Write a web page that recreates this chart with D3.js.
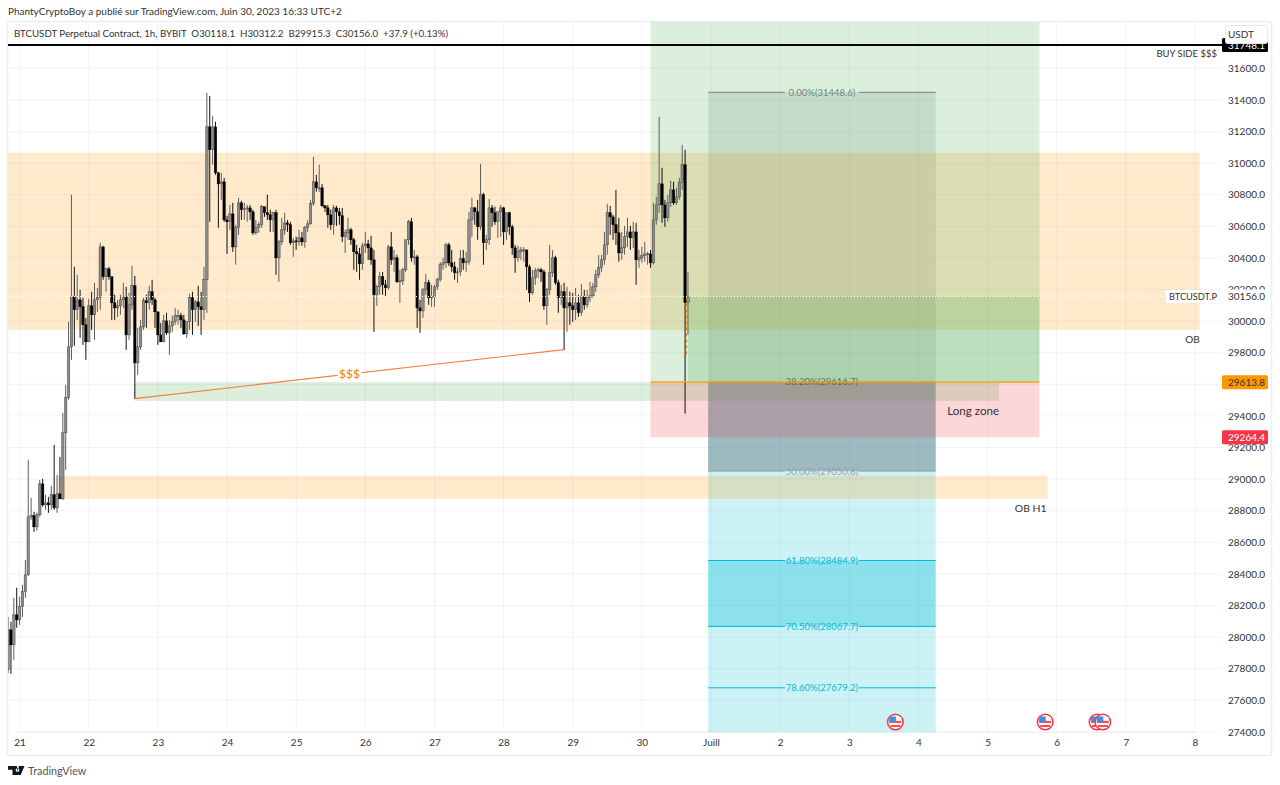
<!DOCTYPE html>
<html>
<head>
<meta charset="utf-8">
<script src="https://cdn.jsdelivr.net/npm/d3@7"></script>
<style>
  html, body { margin: 0; background: #fff; }
  svg { display: block; }
  text { font-family: Lato, "Open Sans", sans-serif; }
</style>
</head>
<body>
<svg id="chart" width="1280" height="785"></svg>
<script>
// hourly candles, hour 0 = 21 June 00:00, one row per day
const firstHour = -4
const firstOpen = 27793

const highs = [
  28128, 28097, 28249, 28312,
  28255, 28331, 28489, 29122, 28882, 28793, 28787, 28996, 29002, 28901, 28888, 28958, 29217, 29027, 29141, 29420, 29597, 29996, 30800, 30344, 30293, 30198, 30148, 30021,
  30141, 30186, 30243, 30211, 30496, 30477, 30338, 30344, 30281, 30167, 30135, 30167, 30243, 30217, 30179, 30350, 30287, 29958, 30008, 30148, 30167, 30224, 30262, 30148,
  30059, 29989, 30040, 30053, 30008, 30034, 30084, 30072, 30053, 30040, 29996, 30173, 30186, 30135, 30224, 30186, 30344, 31445, 31426, 31300, 31262, 30945, 30939, 30907,
  30667, 30736, 30749, 30610, 30781, 30762, 30749, 30736, 30736, 30705, 30641, 30629, 30736, 30724, 30800, 30705, 30692, 30705, 30515, 30654, 30686, 30641, 30629, 30527,
  30534, 30578, 30565, 30603, 30641, 30768, 31040, 30926, 30990, 30869, 30736, 30736, 30705, 30736, 30730, 30717, 30717, 30578, 30654, 30591, 30527, 30483, 30464, 30496,
  30565, 30515, 30540, 30451, 30230, 30312, 30312, 30262, 30483, 30565, 30451, 30420, 30325, 30338, 30496, 30641, 30654, 30451, 30420, 30135, 30211, 30300, 30262, 30230,
  30230, 30274, 30376, 30401, 30496, 30496, 30451, 30376, 30338, 30451, 30451, 30439, 30692, 30781, 30724, 30768, 30996, 30812, 30546, 30774, 30736, 30724, 30692, 30736,
  30724, 30686, 30692, 30610, 30483, 30477, 30470, 30470, 30451, 30357, 30325, 30338, 30338, 30338, 30325, 30211, 30483, 30451, 30414, 30262, 30230, 30243, 30217, 30186,
  30179, 30211, 30167, 30236, 30198, 30198, 30249, 30243, 30325, 30420, 30420, 30565, 30743, 30730, 30673, 30831, 30654, 30565, 30603, 30654, 30603, 30629, 30622, 30451,
  30470, 30502, 30439, 30451, 30749, 30787, 31293, 30971, 30768, 30800, 30888, 30882, 30844, 30907, 31116, 31085, 30312
]
const lows = [
  27774, 27768, 27856, 28059,
  28078, 28128, 28249, 28388, 28742, 28666, 28673, 28761, 28825, 28806, 28787, 28806, 28806, 28787, 28875, 28869, 29059, 29502, 29755, 29844, 30008, 29894, 29850, 29755,
  29869, 29945, 29882, 30059, 30072, 30262, 30186, 30262, 30008, 30008, 30027, 30040, 30084, 29818, 29882, 30072, 29508, 29660, 29818, 29945, 29958, 30072, 30103, 29958,
  29850, 29869, 29869, 29913, 29787, 29932, 29977, 29977, 29958, 29913, 29894, 29945, 29913, 29996, 29970, 29913, 30008, 30053, 30629, 30990, 30926, 30591, 30768, 30629,
  30426, 30578, 30439, 30357, 30546, 30641, 30641, 30629, 30641, 30546, 30546, 30559, 30591, 30660, 30641, 30565, 30565, 30293, 30249, 30483, 30546, 30565, 30483, 30407,
  30451, 30477, 30477, 30464, 30565, 30610, 30730, 30819, 30819, 30724, 30692, 30591, 30578, 30546, 30603, 30610, 30502, 30432, 30515, 30483, 30325, 30312, 30262, 30325,
  30432, 30388, 30357, 29932, 30097, 30167, 30167, 30160, 30198, 30357, 30312, 30243, 30116, 30230, 30312, 30483, 30376, 30357, 29958, 29926, 30021, 30167, 30103, 30091,
  30091, 30198, 30249, 30325, 30338, 30350, 30312, 30262, 30243, 30287, 30325, 30312, 30357, 30534, 30610, 30515, 30578, 30357, 30451, 30483, 30597, 30610, 30527, 30534,
  30483, 30515, 30546, 30420, 30306, 30376, 30388, 30376, 30198, 30122, 30167, 30230, 30274, 30249, 30072, 29977, 30167, 30281, 30230, 30053, 30103, 29818, 29932, 29977,
  29996, 30008, 30027, 30034, 30072, 30084, 30122, 30148, 30186, 30274, 30312, 30357, 30420, 30546, 30515, 30483, 30376, 30388, 30420, 30470, 30451, 30464, 30230, 30338,
  30369, 30376, 30357, 30338, 30357, 30610, 30686, 30622, 30597, 30629, 30724, 30736, 30736, 30768, 30831, 29414, 29915
]
const closes = [
  28046, 27951, 28141, 28109,
  28192, 28287, 28394, 28761, 28768, 28698, 28774, 28970, 28837, 28850, 28837, 28901, 28818, 28907, 28875, 29293, 29515, 29837, 30154, 30072, 30135, 30091, 29977, 29869,
  30097, 30040, 30135, 30148, 30470, 30281, 30331, 30281, 30116, 30084, 30097, 30135, 30154, 29913, 30103, 30224, 29736, 29837, 29964, 30129, 30116, 30186, 30135, 30059,
  29913, 29869, 30002, 29926, 29970, 29996, 30034, 30034, 30008, 29920, 29996, 30148, 30072, 30122, 30091, 30072, 30262, 31230, 31085, 31230, 30939, 30869, 30882, 30641,
  30629, 30679, 30470, 30591, 30749, 30705, 30711, 30717, 30692, 30559, 30591, 30610, 30724, 30686, 30673, 30641, 30686, 30401, 30502, 30578, 30622, 30610, 30496, 30508,
  30502, 30527, 30502, 30591, 30616, 30743, 30882, 30844, 30844, 30730, 30717, 30673, 30610, 30717, 30692, 30667, 30534, 30559, 30578, 30515, 30439, 30426, 30363, 30477,
  30489, 30464, 30388, 30167, 30217, 30281, 30230, 30211, 30470, 30388, 30401, 30249, 30255, 30325, 30515, 30629, 30401, 30407, 30084, 30065, 30198, 30243, 30148, 30154,
  30217, 30262, 30357, 30369, 30483, 30369, 30344, 30306, 30312, 30395, 30369, 30376, 30641, 30717, 30692, 30597, 30800, 30496, 30515, 30717, 30686, 30629, 30692, 30717,
  30565, 30686, 30597, 30464, 30401, 30439, 30451, 30451, 30344, 30179, 30274, 30319, 30325, 30312, 30097, 30198, 30306, 30401, 30243, 30148, 30186, 30084, 30116, 30097,
  30072, 30116, 30053, 30154, 30103, 30148, 30160, 30217, 30293, 30338, 30388, 30483, 30686, 30660, 30610, 30559, 30432, 30464, 30534, 30565, 30527, 30565, 30388, 30401,
  30414, 30426, 30426, 30369, 30641, 30736, 30869, 30736, 30654, 30749, 30831, 30749, 30787, 30876, 30990, 30118, 30156
]

// axis values
const priceTicks = d3.range(27400, 31601, 200)
const dayHours = d3.range(0, 409, 24)
const dayLabels = ['21', '22', '23', '24', '25', '26', '27', '28', '29', '30', 'Juill', '2', '3', '4', '5', '6', '7', '8']

// drawings, in hours and prices
const lastClose = 30156.0
const buySidePrice = 31748.1
const entryPrice = 29613.8
const stopPrice = 29264.4
const positionHours = [219, 354]
const positionTop = 31900
const liveFromHour = 232
const obHours = [-8, 409.6]
const obPrices = [31066, 29945]
const obH1Hours = [13, 356.8]
const obH1Prices = [29021, 28875]
const longZoneHours = [40, 340]
const longZonePrices = [29613, 29495]
const sweepHours = [40, 189]
const sweepPrices = [29510, 29820]
const fibHours = [239, 318]
const fibLevels = [0, 38.2, 50, 61.8, 70.5, 78.6]
const fibPrices = [31448.6, 29616.7, 29050.8, 28484.9, 28067.7, 27679.2]
const fibBottom = 27390
const newsHours = [304, 356, 374, 376]

const plot = { left: 8, right: 1222, top: 22, bottom: 732 }

const x = d3.scaleLinear().domain([0, 408]).range([19.6, 1195])
const y = d3.scaleLinear().domain([31600, 27400]).range([68.4, 731.9])

const svg = d3.select('#chart')

svg.append('defs').append('clipPath').attr('id', 'pane')
  .append('rect')
  .attr('x', plot.left).attr('y', plot.top)
  .attr('width', plot.right - plot.left).attr('height', plot.bottom - plot.top)

svg.append('rect')
  .attr('x', 7.5).attr('y', 21.5)
  .attr('width', 1264).attr('height', 734)
  .attr('rx', 2)
  .attr('fill', '#fff')
  .attr('stroke', '#eceef5')
  .attr('stroke-width', 1.6)

const pane = svg.append('g').attr('clip-path', 'url(#pane)')

// grid
pane.append('g').selectAll('line').data(priceTicks).join('line')
  .attr('x1', plot.left).attr('x2', plot.right)
  .attr('y1', d => y(d)).attr('y2', d => y(d))
  .attr('stroke', '#f2f3f8')
pane.append('g').selectAll('line').data(dayHours).join('line')
  .attr('x1', d => x(d)).attr('x2', d => x(d))
  .attr('y1', plot.top).attr('y2', plot.bottom)
  .attr('stroke', '#f2f3f8')

function zone(hours, prices, fill, opacity, parent = pane) {
  return parent.append('rect')
    .attr('x', x(hours[0]))
    .attr('width', x(hours[1]) - x(hours[0]))
    .attr('y', y(prices[0]))
    .attr('height', y(prices[1]) - y(prices[0]))
    .attr('fill', fill)
    .attr('fill-opacity', opacity)
}

// fib retracement sits under the other drawings
zone(fibHours, [fibPrices[0], fibPrices[1]], '#787b86', 0.18)
zone(fibHours, [fibPrices[1], fibPrices[2]], '#326e7d', 0.48)
zone(fibHours, [fibPrices[2], fibPrices[3]], '#00bcd4', 0.2)
zone(fibHours, [fibPrices[3], fibPrices[4]], '#00bcd4', 0.45)
zone(fibHours, [fibPrices[4], fibBottom], '#00bcd4', 0.2)

const fibColors = ['#787b86', '#55585f', '#9aa0a8', '#00bcd4', '#00bcd4', '#00bcd4']
const fibMid = (x(fibHours[0]) + x(fibHours[1])) / 2
fibPrices.forEach((p, i) => {
  const py = y(p)
  if (i !== 1) {
    pane.append('line')
      .attr('x1', x(fibHours[0])).attr('x2', fibMid - 37)
      .attr('y1', py).attr('y2', py)
      .attr('stroke', fibColors[i])
    pane.append('line')
      .attr('x1', fibMid + 37).attr('x2', x(fibHours[1]))
      .attr('y1', py).attr('y2', py)
      .attr('stroke', fibColors[i])
  }
  pane.append('text')
    .attr('x', fibMid)
    .attr('y', py + 3.5)
    .attr('text-anchor', 'middle')
    .attr('font-size', 9.5)
    .attr('fill', fibColors[i])
    .text(`${fibLevels[i].toFixed(2)}%(${p.toFixed(1)})`)
})

// order blocks
zone(obHours, obPrices, '#ff9800', 0.2)
zone(obH1Hours, obH1Prices, '#ff9800', 0.2)
zone(longZoneHours, longZonePrices, '#4caf50', 0.2)

// long position
zone(positionHours, [positionTop, entryPrice], '#4caf50', 0.2)
zone(positionHours, [entryPrice, stopPrice], '#f23645', 0.2)
zone([liveFromHour, positionHours[1]], [lastClose, entryPrice], '#4caf50', 0.22)

// candles
const bars = closes.map((c, i) => ({
  hour: firstHour + i,
  open: i ? closes[i - 1] : firstOpen,
  high: highs[i],
  low: lows[i],
  close: c
}))
const candles = pane.append('g').selectAll('g').data(bars).join('g')
candles.append('line')
  .attr('x1', d => x(d.hour)).attr('x2', d => x(d.hour))
  .attr('y1', d => y(d.high)).attr('y2', d => y(d.low))
  .attr('stroke', d => d.close >= d.open ? '#5e5e5e' : '#111')
  .attr('stroke-width', 1)
candles.append('rect')
  .attr('x', d => x(d.hour) - 1.25)
  .attr('width', 2.5)
  .attr('y', d => y(Math.max(d.open, d.close)))
  .attr('height', d => Math.max(1, Math.abs(y(d.open) - y(d.close))))
  .attr('fill', d => d.close >= d.open ? '#8c8c8c' : '#000')
  .attr('stroke', d => d.close >= d.open ? '#333' : '#000')
  .attr('stroke-width', 0.4)

pane.append('line')
  .attr('x1', x(positionHours[0])).attr('x2', x(positionHours[1]))
  .attr('y1', y(entryPrice)).attr('y2', y(entryPrice))
  .attr('stroke', '#ff9800')
  .attr('stroke-width', 1.4)
pane.append('line')
  .attr('x1', x(liveFromHour) - 1.4).attr('x2', x(liveFromHour) - 1.4)
  .attr('y1', y(29790)).attr('y2', y(lastClose))
  .attr('stroke', '#f57c00')
  .attr('stroke-width', 1)
  .attr('stroke-dasharray', '3 3')

// liquidity sweep line
pane.append('line')
  .attr('x1', x(sweepHours[0])).attr('x2', x(sweepHours[1]))
  .attr('y1', y(sweepPrices[0])).attr('y2', y(sweepPrices[1]))
  .attr('stroke', '#f57c3c')
  .attr('stroke-width', 1.2)
const sweepX = (x(sweepHours[0]) + x(sweepHours[1])) / 2
const sweepY = (y(sweepPrices[0]) + y(sweepPrices[1])) / 2
pane.append('rect')
  .attr('x', sweepX - 12).attr('y', sweepY - 7)
  .attr('width', 24).attr('height', 14)
  .attr('fill', '#fff')
pane.append('text')
  .attr('x', sweepX).attr('y', sweepY + 4)
  .attr('text-anchor', 'middle')
  .attr('font-size', 12)
  .attr('fill', '#f57c00')
  .text('$$$')

// buy side line and current price line
pane.append('line')
  .attr('x1', plot.left).attr('x2', plot.right)
  .attr('y1', y(buySidePrice)).attr('y2', y(buySidePrice))
  .attr('stroke', '#000')
  .attr('stroke-width', 2)
pane.append('line')
  .attr('x1', plot.left).attr('x2', plot.right)
  .attr('y1', y(lastClose)).attr('y2', y(lastClose))
  .attr('stroke', '#fff')
  .attr('stroke-dasharray', '1 2')

function note(label, px, py, size) {
  pane.append('text')
    .attr('x', px).attr('y', py)
    .attr('text-anchor', 'end')
    .attr('font-size', size)
    .attr('fill', '#333')
    .text(label)
}
note('BUY SIDE $$$', 1217, y(buySidePrice) + 12, 9.5)
note('OB', x(obHours[1]), y(obPrices[1]) + 13, 10)
note('OB H1', x(obH1Hours[1]) - 1, y(obH1Prices[0]) + 36, 10.4)
note('Long zone', x(longZoneHours[1]), y(longZonePrices[1]) + 14, 11.6)

// economic events
const flags = pane.append('g').selectAll('g').data(newsHours).join('g')
  .attr('transform', d => `translate(${x(d)},722)`)
flags.append('circle').attr('r', 7.8).attr('fill', '#fff').attr('stroke', '#f23645').attr('stroke-width', 1.5)
flags.append('rect').attr('x', -5.8).attr('y', -5).attr('width', 11.6).attr('height', 2).attr('fill', '#fff')
flags.append('rect').attr('x', -6).attr('y', -1.2).attr('width', 12).attr('height', 2.2).attr('fill', '#f5504f')
flags.append('rect').attr('x', -5).attr('y', 3).attr('width', 10).attr('height', 2).attr('fill', '#f5504f')
flags.append('rect').attr('x', -6).attr('y', -5.5).attr('width', 6.5).attr('height', 5.5).attr('fill', '#3d8fe8')

// axes
const priceAxis = svg.append('g')
  .attr('transform', `translate(${plot.right},0)`)
  .call(d3.axisRight(y).tickValues(priceTicks).tickSize(0).tickPadding(6).tickFormat(d3.format('.1f')))
const timeAxis = svg.append('g')
  .attr('transform', `translate(0,${plot.bottom})`)
  .call(d3.axisBottom(x).tickValues(dayHours).tickSize(0).tickPadding(7).tickFormat((d, i) => dayLabels[i]))
priceAxis.select('.domain').remove()
timeAxis.select('.domain').attr('stroke', '#eef0f5')
svg.selectAll('.tick text')
  .attr('fill', '#333')
  .attr('font-size', 10)
  .style('font-family', 'Lato, "Open Sans", sans-serif')

function priceTag(label, price, fill, color) {
  svg.append('rect')
    .attr('x', plot.right).attr('y', y(price) - 7)
    .attr('width', 46).attr('height', 14)
    .attr('rx', 1.5)
    .attr('fill', fill)
  svg.append('text')
    .attr('x', plot.right + 6).attr('y', y(price) + 3.5)
    .attr('font-size', 10)
    .attr('fill', color)
    .text(label)
}
priceTag(buySidePrice.toFixed(1), buySidePrice, '#000', '#fff')
priceTag(lastClose.toFixed(1), lastClose, '#fff', '#333')
priceTag(entryPrice.toFixed(1), entryPrice, '#ff9800', '#333')
priceTag(stopPrice.toFixed(1), stopPrice, '#f23645', '#fff')

svg.append('rect')
  .attr('x', 1166).attr('y', y(lastClose) - 6.5)
  .attr('width', 52).attr('height', 13)
  .attr('rx', 1)
  .attr('fill', '#fff')
svg.append('text')
  .attr('x', 1169).attr('y', y(lastClose) + 3.5)
  .attr('font-size', 9.2)
  .attr('fill', '#333')
  .text('BTCUSDT.P')

svg.append('rect')
  .attr('x', 1225.5).attr('y', 25.5)
  .attr('width', 42).attr('height', 18)
  .attr('rx', 2)
  .attr('fill', '#fff')
  .attr('stroke', '#e6e8ef')
svg.append('text')
  .attr('x', 1228).attr('y', 38)
  .attr('font-size', 10)
  .attr('fill', '#333')
  .text('USDT')

// header
svg.append('text')
  .attr('x', 8).attr('y', 15)
  .attr('font-size', 10)
  .attr('fill', '#333')
  .text('PhantyCryptoBoy a publié sur TradingView.com, Juin 30, 2023 16:33 UTC+2')
svg.append('text')
  .attr('x', 14).attr('y', 37)
  .attr('font-size', 9.7)
  .attr('fill', '#333')
  .style('white-space', 'pre')
  .text('BTCUSDT Perpetual Contract, 1h, BYBIT  O30118.1  H30312.2  B29915.3  C30156.0  +37.9 (+0.13%)')

// footer logo
svg.append('path')
  .attr('d', 'M8 766h9v9h-4.5v-5.2H8z M17.5 768.2a1.8 1.8 0 1 0 0.01 0z M19 766h5.5l-3.8 9h-5z')
  .attr('fill', '#131722')
svg.append('text')
  .attr('x', 28).attr('y', 775)
  .attr('font-size', 10.8)
  .attr('fill', '#555')
  .text('TradingView')
</script>
</body>
</html>
